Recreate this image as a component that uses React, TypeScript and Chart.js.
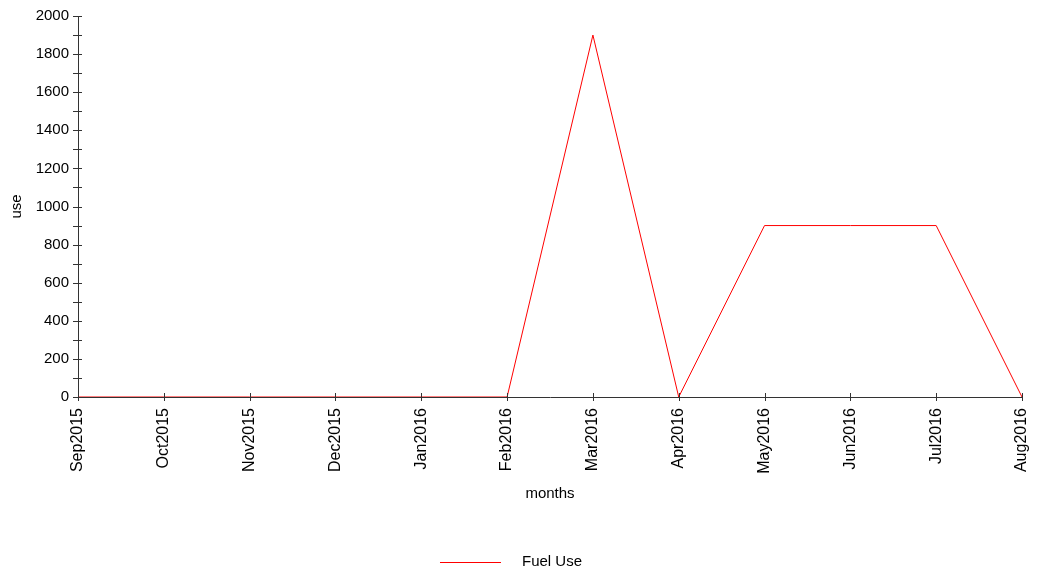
import React, { useEffect, useRef } from "react";
import { Chart, registerables } from "chart.js";

Chart.register(...registerables);

const months = ["Sep2015", "Oct2015", "Nov2015", "Dec2015", "Jan2016", "Feb2016", "Mar2016", "Apr2016", "May2016", "Jun2016", "Jul2016", "Aug2016"];
const fuelUse = [0, 0, 0, 0, 0, 0, 1900, 0, 900, 900, 900, 0];
const seriesName = "Fuel Use";
const xTitle = "months";
const yTitle = "use";
const yMin = 0;
const yMax = 2000;
const yStep = 200;

const FONT = "Arial, 'Liberation Sans', sans-serif";
const AXIS = "#333333";

const tickPlugin = {
  id: "crossTicks",
  afterDatasetsDraw(chart: any) {
    const ctx = chart.ctx;
    const x = chart.scales.x;
    const y = chart.scales.y;
    const axisX = chart.chartArea.left;
    const axisY = chart.chartArea.bottom;
    ctx.save();
    ctx.strokeStyle = AXIS;
    ctx.lineWidth = 1;
    ctx.beginPath();
    for (let v = yMin; v <= yMax; v += yStep / 2) {
      const py = Math.round(y.getPixelForValue(v)) + 0.5;
      ctx.moveTo(axisX - 5, py);
      ctx.lineTo(axisX + 4, py);
    }
    for (let i = 0; i < months.length; i++) {
      const px = Math.round(x.getPixelForValue(i)) + 0.5;
      ctx.moveTo(px, axisY - 4);
      ctx.lineTo(px, axisY + 4);
    }
    ctx.stroke();
    ctx.restore();
  },
  afterDraw(chart: any) {
    const ctx = chart.ctx;
    const ds = chart.data.datasets[0];
    const cx = chart.width / 2 - 8;
    const ly = chart.height - 7;
    ctx.save();
    ctx.font = `15px ${FONT}`;
    const tw = ctx.measureText(ds.label).width;
    const total = 61 + 21 + tw;
    const x0 = cx - total / 2;
    ctx.strokeStyle = ds.borderColor;
    ctx.lineWidth = 1;
    ctx.beginPath();
    ctx.moveTo(x0, Math.round(ly) + 0.5);
    ctx.lineTo(x0 + 61, Math.round(ly) + 0.5);
    ctx.stroke();
    ctx.fillStyle = "#000";
    ctx.textBaseline = "middle";
    ctx.textAlign = "left";
    ctx.fillText(ds.label, x0 + 82, ly);
    ctx.restore();
  },
};

export default function App() {
  const ref = useRef<HTMLCanvasElement>(null);
  useEffect(() => {
    if (!ref.current) return;
    const chart = new Chart(ref.current, {
      type: "line",
      data: {
        labels: months,
        datasets: [
          {
            label: seriesName,
            data: fuelUse,
            borderColor: "#ff0000",
            backgroundColor: "#ff0000",
            borderWidth: 1,
            pointRadius: 0,
            tension: 0,
            fill: false,
          },
        ],
      },
      options: {
        animation: false,
        responsive: false,
        maintainAspectRatio: false,
        layout: { padding: { top: 8, right: 8, left: 0, bottom: 66 } },
        plugins: {
          legend: { display: false },
          tooltip: { enabled: false },
        },
        scales: {
          x: {
            type: "category",
            offset: false,
            grid: { display: true, drawOnChartArea: false, drawTicks: true, tickLength: 4, tickColor: "transparent", color: "transparent" },
            border: { display: true, color: AXIS, width: 1 },
            ticks: {
              autoSkip: false,
              maxRotation: 90,
              minRotation: 90,
              padding: 7,
              color: "#000",
              font: { family: FONT, size: 16 },
            },
            title: { display: true, text: xTitle, color: "#000", font: { family: FONT, size: 15 }, padding: 0 },
            afterFit(scale: any) {
              scale.height = 106;
              scale.paddingLeft = 0;
              scale.paddingRight = 0;
            },
          },
          y: {
            min: yMin,
            max: yMax,
            grid: { display: true, drawOnChartArea: false, drawTicks: true, tickLength: 5, tickColor: "transparent", color: "transparent" },
            border: { display: true, color: AXIS, width: 1 },
            ticks: {
              stepSize: yStep,
              padding: 4,
              color: "#000",
              font: { family: FONT, size: 15 },
              callback: (v: any) => String(v),
            },
            title: { display: true, text: yTitle, color: "#000", font: { family: FONT, size: 15 }, padding: 0 },
            afterFit(scale: any) {
              scale.width = 70;
              scale.paddingTop = 0;
              scale.paddingBottom = 0;
            },
          },
        },
      },
      plugins: [tickPlugin],
    });
    return () => chart.destroy();
  }, []);
  return <canvas ref={ref} width={1022} height={561} style={{ display: "block" }} />;
}
